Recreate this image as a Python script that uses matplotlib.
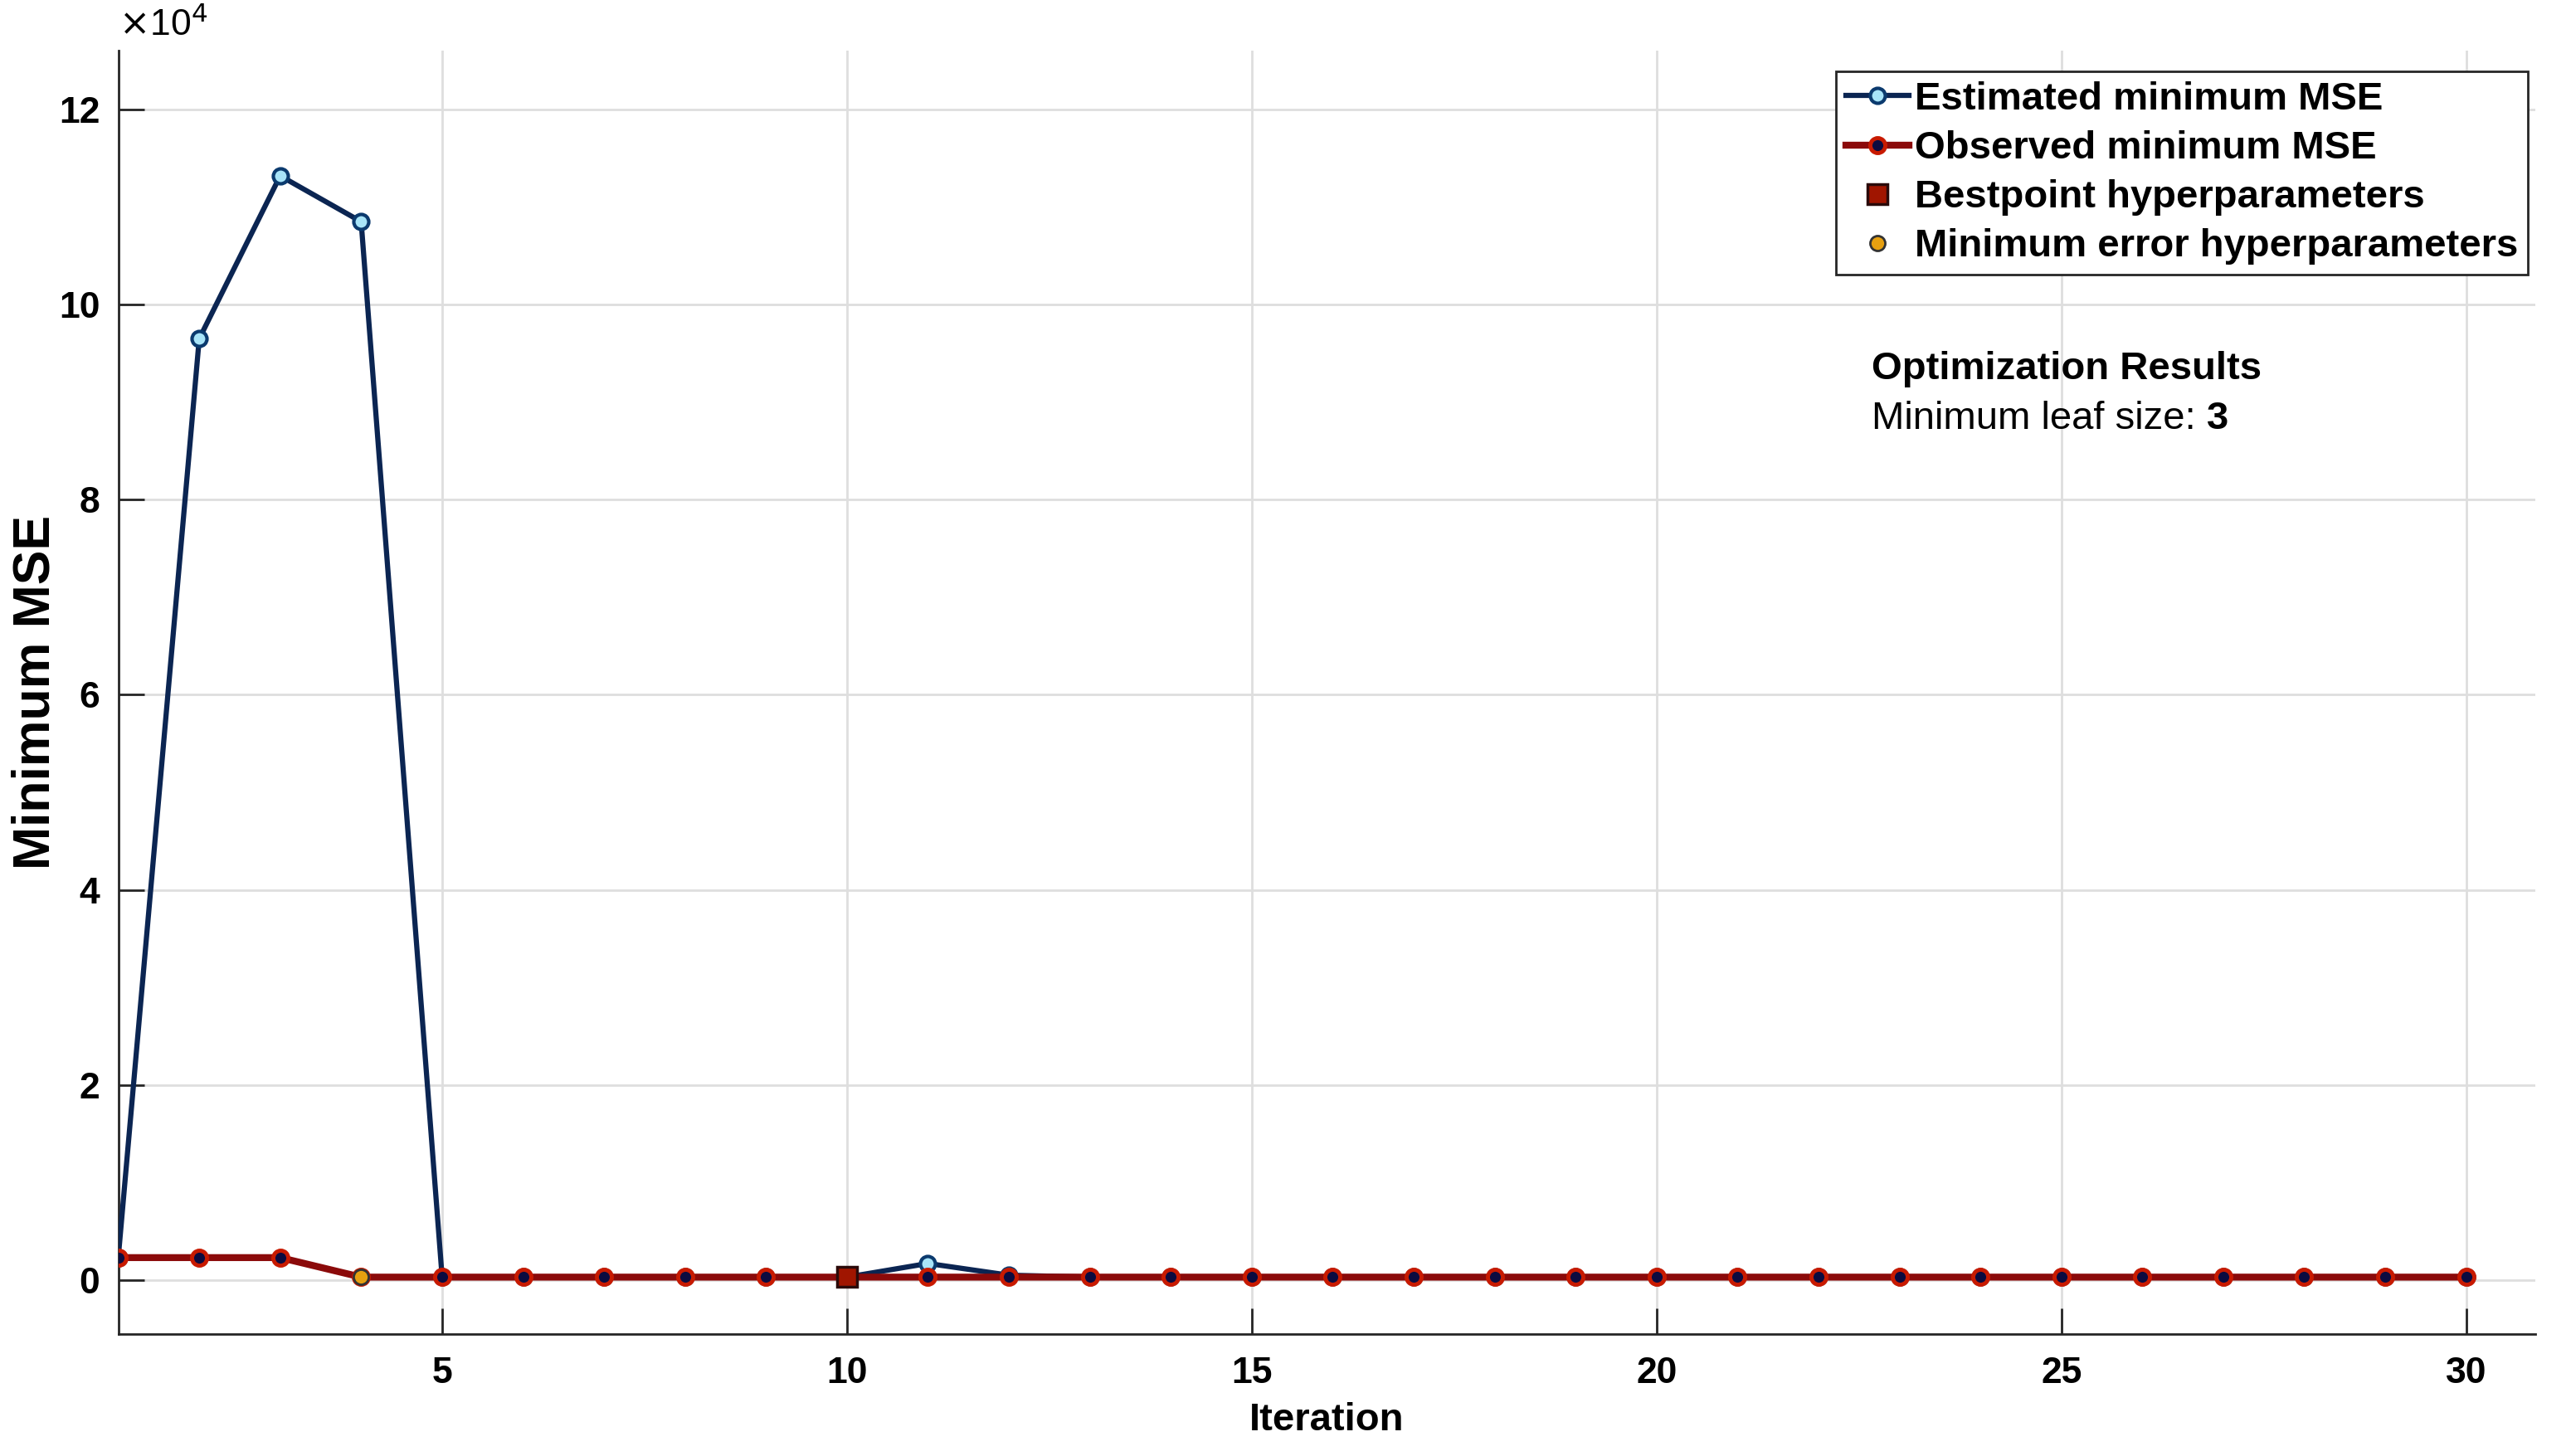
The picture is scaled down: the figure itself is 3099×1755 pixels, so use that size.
import matplotlib
matplotlib.use("Agg")
import matplotlib.pyplot as plt
from matplotlib.ticker import FuncFormatter, FixedLocator

# ---- data ----
iterations = list(range(1, 31))
estimated_mse = [2300, 96500, 113200, 108500, 300, 300, 300, 300, 300, 300,
                 1700, 500] + [300] * 18
observed_mse = [2300, 2300, 2300] + [300] * 27
best_iter = [10]
best_val = [300]
minerr_iter = [4]
minerr_val = [300]
x_ticks = [5, 10, 15, 20, 25, 30]
y_ticks = [0, 20000, 40000, 60000, 80000, 100000, 120000]

plt.rcParams['font.family'] = ['Liberation Sans', 'DejaVu Sans']

fig = plt.figure(figsize=(30.99, 17.55), dpi=100)
ax = fig.add_axes([0.046, 0.084, 0.94, 0.881])

ax.plot(iterations, estimated_mse, '-o', color='#0b2552', lw=4.5,
        markersize=13, markerfacecolor='#a8e4f8', markeredgecolor='#0b3a6e',
        markeredgewidth=3, label='Estimated minimum MSE', zorder=3)
ax.plot(iterations, observed_mse, '-o', color='#8b0a0a', lw=6,
        markersize=13, markerfacecolor='#0b0b40', markeredgecolor='#c81a00',
        markeredgewidth=3.5, label='Observed minimum MSE', zorder=4)
ax.plot(best_iter, best_val, 's', linestyle='none', markersize=17,
        markerfacecolor='#a01500', markeredgecolor='#2a0a0a', markeredgewidth=2.5,
        label='Bestpoint hyperparameters', zorder=5)
ax.plot(minerr_iter, minerr_val, 'o', linestyle='none', markersize=13,
        markerfacecolor='#e6a010', markeredgecolor='#333333', markeredgewidth=2,
        label='Minimum error hyperparameters', zorder=5)

ax.set_xlim(1, 30.85)
ax.set_ylim(-5500, 126000)
ax.xaxis.set_major_locator(FixedLocator(x_ticks))
ax.yaxis.set_major_locator(FixedLocator(y_ticks))
ax.yaxis.set_major_formatter(FuncFormatter(lambda v, p: f"{v/1e4:g}"))

ax.grid(True, color='#dedede', lw=2)
ax.set_axisbelow(True)
for s in ['top', 'right']:
    ax.spines[s].set_visible(False)
for s in ['left', 'bottom']:
    ax.spines[s].set_color('#262626')
    ax.spines[s].set_linewidth(2)
ax.tick_params(direction='in', length=22, width=2, color='#262626',
               labelsize=32)
ax.tick_params(axis='x', pad=20)
ax.tick_params(axis='y', pad=16)
for lab in ax.get_xticklabels() + ax.get_yticklabels():
    lab.set_fontweight('bold')

ax.set_xlabel('Iteration', fontsize=34, fontweight='bold', labelpad=10)
ax.set_ylabel('Minimum MSE', fontsize=45, fontweight='bold')
ax.yaxis.set_label_coords(-0.024, 0.5)

ax.text(0.0, 1.006, r'$\times$10$^4$', transform=ax.transAxes, fontsize=32,
        ha='left', va='bottom')

leg = ax.legend(loc='upper right', bbox_to_anchor=(0.997, 0.984),
                prop={'weight': 'bold', 'size': 34}, frameon=True, fancybox=False,
                edgecolor='#262626', framealpha=1, handlelength=1.6,
                handletextpad=0.15, borderpad=0.25, labelspacing=0.32,
                borderaxespad=0)
leg.get_frame().set_linewidth(2)

ax.text(0.7256, 0.752, 'Optimization Results', transform=ax.transAxes,
        fontsize=34, fontweight='bold', ha='left', va='center')
t = ax.text(0.7256, 0.713, 'Minimum leaf size: ', transform=ax.transAxes,
            fontsize=34, ha='left', va='center')
ax.annotate('3', xy=(1, 0), xycoords=t, ha='left', va='bottom',
            fontsize=34, fontweight='bold')

fig.savefig('out.png', dpi=100)
